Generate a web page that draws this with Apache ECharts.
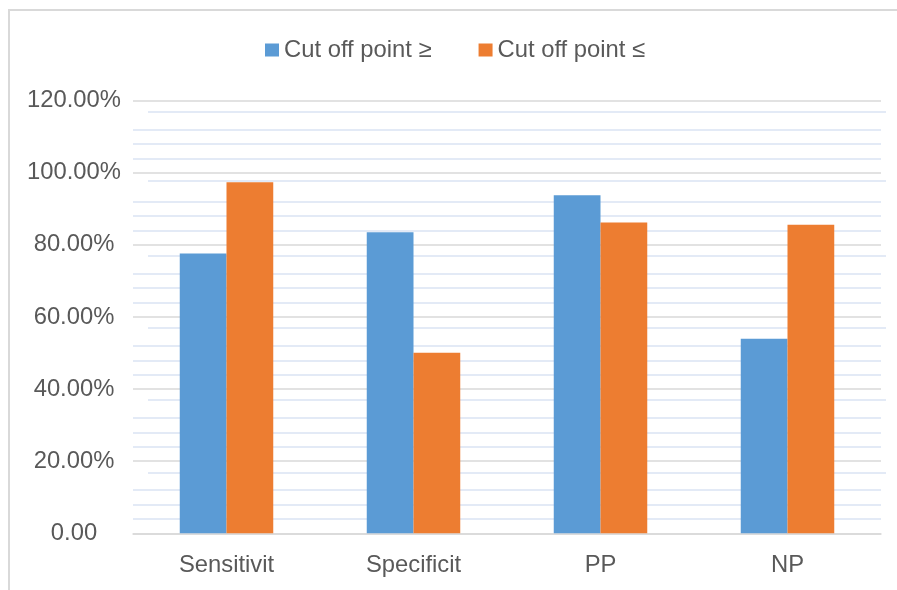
<!DOCTYPE html>
<html>
<head>
<meta charset="utf-8">
<script src="https://cdn.jsdelivr.net/npm/echarts@6/dist/echarts.min.js"></script>
<style>html,body{margin:0;padding:0;background:#fff}#c{width:897px;height:590px}</style>
</head>
<body>
<div id="c"></div>
<script>
var categories = ['Sensitivit', 'Specificit', 'PP', 'NP'];
var seriesNames = ['Cut off point \u2265', 'Cut off point \u2264'];
var cutOffGE = [77.6, 83.5, 93.8, 54.0];
var cutOffLE = [97.4, 50.1, 86.2, 85.6];
var yTickLabels = ['0.00', '20.00%', '40.00%', '60.00%', '80.00%', '100.00%', '120.00%'];
var minorGridValues = [4, 8, 12, 24, 28, 32, 44, 48, 52, 64, 68, 72, 84, 88, 92, 104, 108, 112];
var offsetGridValues = [16.8, 37.1, 57.1, 77.1, 97.9, 116.8];

var FONT = 'Liberation Sans, Arial, sans-serif';
var TXT = '#595959';
var FS = 23.8;
var TOP = 100.7, H = 432.6;

var chart = echarts.init(document.getElementById('c'), null, {renderer: 'canvas'});
chart.setOption({
  animation: false,
  backgroundColor: '#ffffff',
  textStyle: {fontFamily: FONT},
  graphic: [{
    type: 'rect', x: 0, y: 0, z: -10, silent: true,
    shape: {x: 9, y: 10, width: 1000, height: 1000},
    style: {fill: 'none', stroke: '#d9d9d9', lineWidth: 2}
  }],
  legend: {
    left: 265, top: 38, padding: 0,
    itemWidth: 14, itemHeight: 13, itemGap: 47,
    icon: 'rect',
    textStyle: {color: TXT, fontSize: FS, fontFamily: FONT},
    data: seriesNames
  },
  grid: [
    {left: 133, right: 16, top: TOP, height: H},
    {left: 148, right: 11, top: TOP, height: H}
  ],
  xAxis: [
    {
      type: 'category', gridIndex: 0, data: categories,
      axisLine: {show: true, lineStyle: {color: '#d9d9d9', width: 1.5}},
      axisTick: {show: false},
      axisLabel: {color: TXT, fontSize: FS, fontFamily: FONT, margin: 20}
    },
    {type: 'value', gridIndex: 1, min: 0, max: 1, show: false}
  ],
  yAxis: [
    {
      type: 'value', gridIndex: 0, min: 0, max: 120, interval: 20,
      axisLine: {show: false}, axisTick: {show: false},
      axisLabel: {
        color: TXT, fontSize: FS, fontFamily: FONT, align: 'center', margin: 59,
        padding: [4, 0, 0, 0],
        formatter: function (v) { return yTickLabels[Math.round(v / 20)]; }
      },
      splitLine: {show: true, lineStyle: {color: '#d9d9d9', width: 1.5}}
    },
    {type: 'value', gridIndex: 1, min: 0, max: 120, show: false}
  ],
  series: [
    {
      type: 'line', xAxisIndex: 0, yAxisIndex: 0, data: [], z: 1, silent: true,
      markLine: {
        z: 1, silent: true, symbol: 'none', label: {show: false}, animation: false,
        lineStyle: {color: '#dae3f3', width: 1.5, type: 'solid'},
        data: minorGridValues.map(function (v) { return {yAxis: v}; })
      }
    },
    {
      type: 'line', xAxisIndex: 1, yAxisIndex: 1, data: [], z: 1, silent: true,
      markLine: {
        z: 1, silent: true, symbol: 'none', label: {show: false}, animation: false,
        lineStyle: {color: '#dae3f3', width: 1.5, type: 'solid'},
        data: offsetGridValues.map(function (v) { return {yAxis: v}; })
      }
    },
    {
      name: seriesNames[0], type: 'bar', xAxisIndex: 0, yAxisIndex: 0, z: 3,
      data: cutOffGE, barGap: '0%', barCategoryGap: '50%',
      itemStyle: {color: '#5b9bd5'}
    },
    {
      name: seriesNames[1], type: 'bar', xAxisIndex: 0, yAxisIndex: 0, z: 3,
      data: cutOffLE, barGap: '0%', barCategoryGap: '50%',
      itemStyle: {color: '#ed7d31'}
    }
  ]
});
</script>
</body>
</html>
